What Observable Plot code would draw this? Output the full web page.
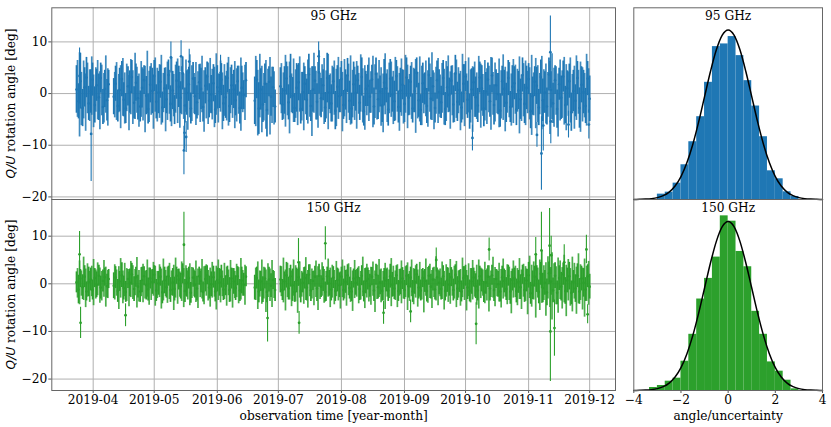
<!DOCTYPE html>
<html>
<head>
<meta charset="utf-8">
<script src="https://cdn.jsdelivr.net/npm/d3@7"></script>
<script src="https://cdn.jsdelivr.net/npm/@observablehq/plot@0.6"></script>
<style>
  body { margin: 0; background: white; }
  #fig { position: relative; width: 831px; height: 427px; overflow: hidden; }
  #fig svg { position: absolute; overflow: visible; max-width: none; }
</style>
</head>
<body>
<div id="fig"></div>
<script>
// days since 2019-04-01, both bands share the observing schedule
const obsDays = [
  -8.2,-7.2,-6.3,-5.2,-4.2,-3.3,-2.2,-1.2,-0.3,0.8,1.7,2.8,3.7,4.8,5.7,6.8,7.6,
  10.1,11,12.1,13,14.1,15,16,17.1,18,19,20.1,21,22,23.1,24,25,26.1,27,28,
  29.1,30,31,32.1,33,34,35.1,36,37,38,39.1,40,41,42.1,43,44,45.1,46,47,48,
  49.1,50,51,52.1,53,54,55.1,56,57,58,59.1,60,61,62.1,63,64,65.1,66,67,68,
  69.1,70,71,72.1,73,74,75.1,
  79.4,80.4,81.4,82.4,83.4,84.4,85.4,86.4,87.4,88.4,89.4,
  92,93,94,95,96,97,98,99,100,101,102,103,104,105,106,107,108,109,110,111,
  112,113,114,115,116,117,118,119,120,121,122,123,124,125,126,127,128,129,130,131,
  132,133,134,135,136,137,138,139,140,141,142,143,144,145,146,147,148,149,150,151,
  152,153,154,155,156,157,158,159,160,161,162,163,164,165,166,167,168,169,170,171,
  172,173,174,175,176,177,178,179,180,181,182,183,184,185,186,187,188,189,190,191,
  192,193,194,195,196,197,198,199,200,201,202,203,204,205,206,207,208,209,210,211,
  212,213,214,215,216,217,218,219,220,221,222,223,224,225,226,227,228,229,230,231,
  232,233,234,235,236,237,238,239,240,241,242,243,244
]

const angle95 = [
  0.8,-1.5,2.4,-2.8,1.2,3.1,-1.9,0.4,2.7,-2.2,1.6,-0.7,3.0,-2.6,0.9,-1.3,1.8,
  -0.6,1.9,-2.4,0.7,2.8,-1.2,-2.9,1.4,0.3,3.2,-1.8,2.1,-0.9,-2.5,1.1,2.6,-0.4,-3.0,1.7,0.5,
  3.4,-1.6,0.2,2.3,-2.7,1.0,-1.1,3.6,-2.0,0.6,-3.2,2.5,1.3,-0.8,3.9,-2.3,0.1,1.8,-2.9,2.9,
  -0.5,-1.7,2.2,0.9,-2.6,1.5,3.3,-1.4,-0.2,2.0,-3.1,1.2,0.4,2.7,-1.9,-0.7,3.0,-2.4,1.6,0.8,
  -1.3,2.4,-2.8,1.1,-0.3,2.6,
  -1.4,2.7,-2.9,0.8,-2.1,1.9,-3.2,2.3,-0.6,1.2,-2.5,
  1.4,-2.1,0.6,2.9,-1.7,3.3,-0.4,-2.8,1.1,2.2,-3.0,0.3,1.9,-1.2,3.7,-2.4,0.8,2.5,-1.6,4.1,
  -0.9,1.6,-2.7,3.0,0.2,-1.9,2.4,-3.3,1.3,-0.5,2.8,-2.2,0.7,3.5,-1.4,-2.9,1.8,0.1,2.6,-1.8,
  3.2,-3.4,0.9,1.5,-0.6,2.7,-2.5,3.8,-1.1,0.4,-2.3,2.1,1.0,-3.1,2.9,-0.2,-1.5,3.4,-2.6,0.6,
  1.7,-2.0,3.1,-0.8,2.3,-2.9,0.5,4.0,-1.3,-3.2,2.0,0.9,-2.4,3.6,-1.0,1.4,-2.8,2.6,0.3,-1.7,
  3.0,-3.0,1.2,-0.3,2.5,-2.1,3.9,-1.6,0.7,-2.7,1.9,3.3,-1.2,-3.5,0.8,2.2,-0.7,-2.3,3.1,1.0,
  -2.9,0.4,2.7,-1.5,3.5,-2.2,1.6,-0.1,-3.3,2.4,0.9,-1.8,3.0,-2.6,1.3,2.0,-3.1,0.6,-1.1,3.6,
  -2.0,1.1,2.8,-3.4,-0.5,2.3,1.5,-2.7,3.2,-1.3,0.2,-2.5,3.7,0.7,-1.9,2.6,-3.0,1.8,-0.8,3.3,
  -2.2,1.0,2.4,-3.6,0.5,-1.4,3.0,-2.8,1.7,0.3,-2.4,2.9,-1.0
]
const err95 = [
  4.6,3.4,5.4,3.6,3.8,3.9,3.3,4.2,3.2,3.5,3.1,4.5,2.9,3.4,3.6,4.0,2.7,
  3.5,3.4,3.1,4.2,3.4,3.3,2.9,3.8,4.1,3.2,3.1,3.6,4.2,3.0,3.9,2.8,3.7,2.9,3.5,4.4,
  3.0,3.3,4.1,3.2,3.0,3.9,2.8,2.9,3.5,3.7,2.8,3.6,4.0,3.1,3.2,3.4,4.3,3.3,3.0,3.1,
  3.6,3.2,3.4,4.0,2.9,3.5,2.8,3.3,3.7,3.6,2.7,4.2,3.3,3.1,3.5,4.1,2.9,3.2,3.9,3.7,
  3.0,2.9,3.1,4.2,2.8,3.4,
  4.6,3.7,5.0,4.0,3.5,3.8,5.2,2.9,3.8,3.9,3.2,
  3.6,3.1,4.6,3.2,3.4,4.3,3.5,2.8,4.7,3.6,2.9,3.8,3.3,4.0,3.9,3.0,4.4,2.7,3.5,4.2,
  3.8,3.0,2.9,4.8,3.3,3.6,2.6,3.7,4.1,3.2,3.4,2.8,3.9,3.3,3.8,3.0,4.3,3.5,2.7,3.4,
  3.7,2.9,3.4,4.0,3.2,2.8,3.6,3.1,3.9,3.0,3.3,4.5,2.8,3.2,3.7,3.4,3.9,3.0,3.1,4.3,
  2.9,3.6,3.8,3.5,3.0,2.8,4.2,2.9,3.3,3.0,3.9,3.1,3.4,3.3,4.1,3.0,2.9,3.7,4.3,3.1,
  3.4,3.2,4.0,3.3,2.8,3.6,3.5,3.8,3.1,3.0,3.7,2.9,3.6,3.4,4.0,2.8,3.9,3.3,3.0,4.4,
  3.5,3.7,3.2,3.1,3.4,3.9,3.0,4.0,3.2,2.9,3.6,3.8,3.4,3.0,4.1,3.2,3.1,3.7,3.9,3.3,
  3.8,4.2,3.0,3.4,3.7,2.9,3.6,3.5,3.3,4.1,4.0,3.6,3.2,3.5,3.9,2.8,3.7,3.1,4.2,3.0,
  3.6,3.4,3.3,3.7,4.0,3.1,3.2,3.9,3.5,4.2,3.4,3.3,4.4
]

const angle150 = [
  0.3,-1.2,1.1,-0.7,1.5,-1.6,0.4,0.9,-1.3,1.2,-0.2,1.7,-0.8,0.6,1.4,-0.5,1.0,
  -0.4,1.3,-1.5,0.5,1.8,-0.9,-1.7,1.0,0.2,2.0,-1.1,1.4,-0.6,-1.6,0.8,1.6,-0.3,-1.2,1.1,0.4,
  1.9,-1.4,0.1,1.5,-1.8,0.7,-0.7,1.6,-1.3,0.3,-1.1,1.7,0.9,-0.5,2.1,-1.5,0.2,1.2,-1.9,1.3,
  -0.2,-1.0,1.6,0.6,-1.7,1.0,1.8,-0.8,-0.1,1.4,-1.6,0.8,0.3,1.5,-1.2,-0.4,1.7,-1.3,1.1,0.5,
  -0.9,1.6,-1.4,0.7,-0.2,1.5,
  -0.8,1.2,-1.6,0.5,-1.2,1.1,-1.7,0.9,-0.4,0.8,-1.3,
  0.9,-1.3,0.5,1.8,-1.0,1.6,-0.3,-1.7,0.7,1.4,-1.5,0.2,1.2,-0.8,1.9,-1.4,0.6,1.5,-1.0,1.7,
  -0.6,1.0,-1.7,1.6,0.1,-1.2,1.3,-1.5,0.8,-0.3,1.5,-1.3,0.4,1.8,-0.9,-1.6,1.1,0.2,1.4,-1.1,
  1.7,-1.6,0.6,1.0,-0.4,1.5,-1.4,1.9,-0.7,0.3,-1.5,1.2,0.7,-1.4,1.6,-0.2,-1.0,1.8,-1.5,0.4,
  1.1,-1.3,1.7,-0.5,1.3,-1.6,0.4,2.0,-0.8,-1.4,1.2,0.6,-1.5,1.7,-0.6,0.9,-1.2,1.4,0.2,-1.1,
  1.6,-1.5,0.8,-0.2,1.4,-1.3,1.9,-1.0,0.5,-1.6,1.2,1.7,-0.8,-1.5,0.5,1.3,-0.5,-1.4,1.6,0.7,
  -1.7,0.3,1.5,-1.0,1.8,-1.3,1.0,-0.1,-1.6,1.4,0.6,-1.1,1.7,-1.6,0.8,1.2,-1.5,0.4,-0.7,1.9,
  -1.3,0.7,1.8,-2.0,-0.3,1.5,1.0,-1.7,2.1,-0.9,0.2,-1.8,2.2,0.5,-1.4,1.7,-1.9,1.2,-0.6,2.0,
  -1.5,0.7,1.6,-1.9,0.4,-1.0,1.7,-1.6,1.1,0.2,-1.2,1.6,-0.6
]
const err150 = [
  2.2,3.0,1.9,2.6,2.3,2.0,3.1,2.4,2.1,2.0,2.7,2.2,2.4,2.3,1.9,2.5,2.0,
  2.7,2.3,2.4,2.1,2.6,2.5,2.2,2.0,2.9,2.3,2.6,2.1,2.4,2.3,2.7,2.0,3.1,2.4,2.2,2.6,
  1.9,2.3,2.5,2.0,2.4,2.8,2.3,2.1,2.6,2.9,2.5,1.8,2.2,2.7,2.1,2.4,3.0,2.3,2.2,2.0,
  2.8,2.6,1.9,2.5,2.1,2.7,2.0,2.4,2.6,2.3,2.2,2.5,2.9,2.4,2.3,2.1,2.0,2.6,2.2,2.7,
  2.6,2.0,2.3,2.8,2.4,2.1,
  2.6,2.3,2.4,2.1,2.7,2.2,2.3,2.6,2.5,2.0,2.4,
  2.8,2.2,2.0,2.7,2.4,2.3,3.4,2.2,2.6,1.9,2.5,2.1,2.3,2.8,2.1,2.3,2.0,2.2,2.7,2.4,
  2.3,2.6,2.1,1.9,2.7,2.4,2.3,2.2,2.5,2.6,2.0,2.3,2.4,2.2,2.3,2.1,2.0,2.6,1.9,2.4,
  2.1,2.2,2.7,2.3,2.4,1.9,2.3,2.2,2.5,2.6,2.1,2.0,2.4,2.3,2.5,2.6,2.3,2.0,2.2,2.7,
  2.3,2.0,2.1,2.5,2.2,2.3,2.6,2.1,2.4,2.2,2.0,2.4,2.3,2.0,2.6,2.4,2.2,1.9,2.5,2.3,
  2.2,2.1,2.6,2.4,2.0,2.3,2.1,2.5,2.3,2.2,2.4,2.2,2.5,2.3,2.7,2.0,2.6,2.2,2.1,2.4,
  2.2,2.5,2.3,2.6,2.1,2.4,2.0,2.7,2.2,2.3,2.5,2.4,2.2,2.7,2.3,2.1,2.5,2.4,2.6,2.0,
  2.6,2.4,2.7,2.3,3.0,2.2,2.8,2.5,2.4,3.1,2.6,2.8,2.4,2.9,2.6,2.7,2.5,2.6,3.0,2.3,
  2.8,2.6,2.9,2.5,2.4,2.9,2.5,2.7,2.6,3.0,2.5,2.4,2.6
]

// further observations between the ones above: only the ends of their bars can be read
const midDays = [
  -7.7,-6.7,-5.8,-4.7,-3.7,-2.8,-1.7,-0.7,0.2,1.3,2.2,3.3,4.2,5.3,6.2,7.2,
  10.6,11.5,12.6,13.5,14.6,15.5,16.5,17.6,18.5,19.5,20.6,21.5,22.5,23.6,24.5,25.5,26.6,27.5,28.5,
  29.6,30.5,31.5,32.6,33.5,34.5,35.6,36.5,37.5,38.5,39.6,40.5,41.5,42.6,43.5,44.5,45.6,46.5,47.5,48.5,
  49.6,50.5,51.5,52.6,53.5,54.5,55.6,56.5,57.5,58.5,59.6,60.5,61.5,62.6,63.5,64.5,65.6,66.5,67.5,68.5,
  69.6,70.5,71.5,72.6,73.5,74.6,
  79.9,80.9,81.9,82.9,83.9,84.9,85.9,86.9,87.9,88.9,
  92.5,93.5,94.5,95.5,96.5,97.5,98.5,99.5,100.5,101.5,102.5,103.5,104.5,105.5,106.5,107.5,108.5,109.5,110.5,111.5,
  112.5,113.5,114.5,115.5,116.5,117.5,118.5,119.5,120.5,121.5,122.5,123.5,124.5,125.5,126.5,127.5,128.5,129.5,130.5,131.5,
  132.5,133.5,134.5,135.5,136.5,137.5,138.5,139.5,140.5,141.5,142.5,143.5,144.5,145.5,146.5,147.5,148.5,149.5,150.5,151.5,
  152.5,153.5,154.5,155.5,156.5,157.5,158.5,159.5,160.5,161.5,162.5,163.5,164.5,165.5,166.5,167.5,168.5,169.5,170.5,171.5,
  172.5,173.5,174.5,175.5,176.5,177.5,178.5,179.5,180.5,181.5,182.5,183.5,184.5,185.5,186.5,187.5,188.5,189.5,190.5,191.5,
  192.5,193.5,194.5,195.5,196.5,197.5,198.5,199.5,200.5,201.5,202.5,203.5,204.5,205.5,206.5,207.5,208.5,209.5,210.5,211.5,
  212.5,213.5,214.5,215.5,216.5,217.5,218.5,219.5,220.5,221.5,222.5,223.5,224.5,225.5,226.5,227.5,228.5,229.5,230.5,231.5,
  232.5,233.5,234.5,235.5,236.5,237.5,238.5,239.5,240.5,241.5,242.5,243.5
]
const midHi95 = [
  6.4,7.9,4.1,6.3,3.8,5.9,4.6,7.1,3.6,5.0,6.4,4.2,5.5,3.9,7.3,4.8,
  4.1,6.0,3.7,5.4,6.8,4.0,5.7,3.5,6.6,4.4,7.8,5.1,3.8,6.2,4.7,5.3,8.2,4.3,5.8,
  3.6,6.9,4.9,5.6,7.4,3.9,5.0,6.1,4.5,7.0,3.7,5.5,6.7,4.1,5.2,3.8,6.5,4.6,7.5,5.4,
  3.9,6.0,4.2,5.7,7.2,4.4,3.6,5.9,6.8,4.7,5.1,7.7,3.8,6.3,4.0,5.6,4.3,7.0,5.0,3.7,
  6.2,4.8,5.3,6.9,4.0,5.5,
  7.2,4.5,7.6,5.3,3.9,6.4,4.7,7.0,5.1,4.2,
  5.8,4.0,7.4,5.2,6.1,3.8,6.7,4.6,5.5,7.1,4.1,5.9,3.7,6.5,4.9,5.2,7.8,4.3,6.0,3.9,
  5.6,6.8,4.4,7.6,3.8,5.3,6.3,4.7,7.0,5.0,4.1,6.6,3.6,5.7,7.3,4.5,5.1,6.2,3.9,7.5,
  4.8,5.4,3.7,6.9,4.2,7.2,5.6,4.0,6.4,5.0,3.8,7.7,4.6,5.9,6.1,4.3,7.0,5.2,3.9,6.7,
  4.5,7.4,5.5,3.7,6.0,4.9,6.6,4.1,7.1,5.3,3.8,6.3,4.4,5.7,7.9,4.0,5.1,6.8,3.6,5.8,
  4.7,6.2,7.3,4.2,5.4,3.9,6.5,5.0,4.3,7.6,5.6,3.8,6.9,4.6,5.2,6.1,4.0,7.2,5.7,3.7,
  6.4,4.8,5.3,7.0,4.1,5.9,3.9,6.7,4.4,7.5,5.1,4.2,6.0,3.8,6.6,5.5,4.7,7.1,3.6,5.8,
  6.3,4.3,5.0,7.4,4.0,6.8,5.4,3.9,7.2,4.6,5.7,4.1,6.2,7.7,4.9,5.2,3.8,6.5,4.4,7.0,
  5.6,4.2,6.9,3.7,5.3,7.3,4.5,6.1,5.0,3.9,7.6,4.8
]
const midLo95 = [
  -4.6,-8.4,-6.2,-4.9,-7.3,-3.9,-5.4,-4.2,-6.6,-3.6,-5.1,-7.0,-4.3,-5.7,-3.8,-6.3,
  -4.7,-5.2,-3.7,-6.8,-4.4,-5.9,-3.5,-7.2,-4.1,-6.0,-5.0,-3.8,-6.5,-4.6,-5.3,-7.6,-3.9,-5.6,-4.2,
  -6.9,-3.6,-5.5,-4.8,-6.1,-3.7,-7.4,-5.2,-4.0,-6.4,-4.5,-3.8,-5.8,-6.7,-4.1,-5.0,-3.6,-7.1,-4.7,-5.4,
  -3.9,-6.2,-4.3,-5.6,-3.7,-7.5,-4.9,-6.0,-3.8,-5.1,-6.6,-4.2,-5.7,-3.6,-7.0,-4.4,-5.3,-6.3,-3.9,-4.8,
  -6.8,-5.5,-4.0,-7.3,-3.7,-5.2,
  -6.4,-8.2,-4.7,-7.6,-5.3,-6.9,-4.2,-8.0,-5.8,-6.1,
  -3.9,-5.0,-6.5,-4.3,-7.8,-3.7,-5.6,-4.8,-6.2,-3.6,-5.3,-7.2,-4.1,-5.9,-4.6,-8.3,-3.8,-5.1,-6.7,-4.4,
  -3.6,-6.0,-4.9,-7.0,-3.9,-5.5,-4.2,-6.4,-5.0,-3.7,-7.4,-4.5,-5.8,-3.8,-6.1,-4.7,-5.2,-6.9,-4.0,-3.6,
  -5.7,-7.1,-4.3,-5.4,-3.8,-6.6,-4.8,-5.1,-3.7,-6.3,-7.6,-4.1,-5.6,-3.9,-4.6,-6.0,-5.3,-3.6,-7.3,-4.4,
  -5.9,-3.8,-6.8,-4.2,-5.0,-3.7,-7.7,-4.9,-5.5,-6.2,-3.9,-4.5,-6.5,-3.6,-5.2,-7.0,-4.0,-5.8,-4.7,-3.8,
  -6.1,-5.4,-3.7,-6.9,-4.3,-5.6,-4.8,-3.9,-7.2,-5.1,-6.4,-4.1,-3.6,-5.7,-7.5,-4.6,-5.0,-3.8,-6.7,-4.4,
  -5.3,-6.0,-3.7,-7.1,-4.2,-5.5,-3.9,-6.6,-4.9,-5.2,-7.4,-3.8,-4.7,-6.3,-5.8,-4.0,-3.6,-7.8,-5.4,-4.5,
  -6.2,-3.9,-5.1,-8.1,-4.3,-6.8,-5.6,-4.1,-7.0,-3.8,-5.9,-4.6,-7.9,-5.0,-6.5,-4.2,-8.4,-5.3,-4.8,-6.1,
  -7.2,-4.4,-5.7,-3.9,-6.9,-5.2,-4.0,-7.5,-5.5,-4.7,-6.3,-3.8
]
const midHi150 = [
  3.2,4.8,2.7,5.6,3.1,4.2,2.6,3.7,5.1,2.9,4.4,3.3,2.6,4.9,3.5,2.8,
  4.0,2.9,3.6,5.3,2.7,4.3,3.2,2.5,4.7,3.8,3.0,5.5,2.8,3.4,4.1,2.6,5.0,3.3,2.9,
  4.5,3.7,2.6,4.0,3.1,5.2,2.8,3.5,4.3,2.7,3.9,5.4,3.0,2.5,4.6,3.2,3.8,2.7,4.2,3.4,
  2.9,4.8,3.1,2.6,5.1,3.6,4.0,2.8,3.3,4.5,2.5,3.7,5.0,3.0,2.7,4.3,3.5,2.9,4.9,3.2,
  2.6,4.1,3.4,5.3,2.8,3.9,
  3.3,4.6,2.7,5.0,3.5,2.9,4.2,3.1,4.9,2.6,
  3.6,5.4,2.9,4.3,3.2,2.7,5.0,3.8,3.0,4.6,2.6,3.4,5.5,2.8,4.0,3.1,2.7,4.8,3.6,2.9,
  4.4,3.0,2.6,5.2,3.3,3.9,2.8,4.7,3.1,2.5,5.0,3.7,2.9,4.2,3.4,2.7,4.9,3.0,3.6,2.6,
  5.6,3.2,4.1,2.8,3.5,4.6,2.7,3.9,5.1,3.1,2.6,4.3,3.3,2.9,5.3,3.7,2.7,4.0,3.0,4.8,
  2.8,3.6,4.4,2.6,5.0,3.2,3.8,2.9,4.5,3.0,2.7,5.2,3.4,4.1,2.8,3.5,5.7,2.9,3.1,4.6,
  2.6,4.0,3.3,5.1,2.9,3.7,4.7,2.7,3.0,5.4,3.6,2.8,4.2,3.2,4.9,2.6,3.9,5.0,3.3,2.9,
  4.5,3.1,3.8,2.7,5.6,3.4,2.9,4.3,3.0,5.2,2.8,4.0,3.5,2.6,4.8,3.7,3.2,5.3,2.9,4.1,
  3.6,3.0,5.8,3.9,4.6,6.2,3.3,5.0,7.0,3.8,4.4,5.7,3.1,6.5,4.2,3.6,5.4,4.8,3.4,6.0,
  3.9,5.1,3.2,5.6,4.3,3.5,6.3,4.0,3.3,5.2,3.7,4.7
]
const midLo150 = [
  -3.0,-4.4,-2.6,-3.5,-5.0,-2.8,-3.9,-2.7,-4.6,-3.2,-2.5,-4.1,-3.6,-2.8,-4.9,-3.1,
  -3.4,-2.6,-5.4,-3.0,-4.2,-2.7,-3.7,-4.8,-2.9,-3.3,-2.5,-5.1,-3.8,-2.7,-4.0,-3.2,-2.8,-4.5,-3.5,
  -2.6,-4.7,-3.1,-2.9,-5.3,-3.6,-2.7,-4.1,-3.3,-2.5,-5.6,-3.0,-4.3,-2.8,-3.7,-5.0,-2.6,-3.4,-4.6,-3.1,
  -2.7,-3.9,-5.2,-2.9,-3.2,-4.4,-2.6,-3.6,-4.9,-3.0,-2.8,-5.5,-3.5,-4.0,-2.7,-3.3,-4.7,-2.5,-3.8,-5.1,
  -3.1,-2.9,-4.2,-3.4,-2.6,-4.5,
  -3.5,-5.4,-2.8,-4.3,-3.2,-6.0,-2.9,-3.7,-5.0,-3.1,
  -2.7,-4.0,-5.7,-2.9,-3.4,-4.8,-2.6,-3.8,-6.2,-3.0,-2.8,-4.3,-3.5,-5.1,-2.7,-3.2,-4.6,-2.9,-5.6,-3.3,
  -2.6,-4.1,-3.7,-2.8,-5.0,-3.0,-4.4,-2.7,-3.6,-5.3,-2.9,-3.2,-4.7,-2.5,-3.9,-5.8,-3.1,-2.8,-4.2,-3.4,
  -2.7,-5.2,-3.0,-3.8,-4.5,-2.6,-6.0,-3.3,-2.9,-4.0,-3.6,-5.4,-2.8,-3.1,-4.8,-2.7,-3.5,-5.0,-2.6,-4.2,
  -3.2,-2.9,-5.6,-3.7,-2.7,-4.4,-3.0,-4.9,-2.8,-3.4,-6.1,-2.6,-4.1,-3.1,-5.2,-2.9,-3.6,-4.6,-2.7,-3.3,
  -5.5,-2.8,-3.9,-4.3,-2.6,-3.2,-5.0,-3.0,-4.7,-2.9,-3.5,-5.7,-2.7,-4.0,-3.4,-2.8,-4.5,-5.3,-3.1,-2.6,
  -4.2,-3.6,-5.9,-2.9,-3.0,-4.8,-2.7,-3.8,-5.1,-3.2,-2.8,-4.4,-3.5,-6.3,-3.0,-2.9,-4.6,-3.3,-5.4,-2.8,
  -3.7,-6.5,-3.1,-4.9,-3.4,-7.2,-3.0,-5.6,-4.1,-3.5,-6.8,-3.2,-5.0,-7.6,-3.8,-4.4,-6.2,-3.3,-5.3,-4.0,
  -6.9,-3.6,-4.7,-5.9,-3.2,-6.4,-4.2,-3.5,-5.5,-7.0,-3.7,-4.5
]

// the large excursions, read one by one
const spikeDay95 = [-6.7,-1.0,38.2,43.2,44.6,44.9,45.7,47.2,62.6,110.8,186.4,218.1,220.3,221.2,224.7,224.9,233.6,243.6]
const spikeAngle95 = [3.4,-7.8,7.0,7.2,-11.0,-7.6,-8.4,6.2,4.0,7.2,-8.6,-8.0,-11.6,-6.2,8.0,-5.4,-6.0,-6.0]
const spikeErr95 = [5.4,9.2,3.0,3.0,4.7,3.2,3.0,2.4,3.4,2.8,2.5,2.4,7.1,4.9,7.0,4.3,2.6,2.8]

const spikeDay150 = [-6.7,-6.2,15.9,44.6,85.7,100.9,101.2,114.1,142.7,156.0,168.6,188.2,194.6,217.5,220.3,224.3,224.7,225.1,226.7,231.5,242.4,243]
const spikeAngle150 = [6.2,-8.2,-6.6,8.2,-7.2,4.5,-8.2,8.5,-6.1,-5.8,5.0,-8.4,7.2,6.2,7.0,8.0,-10.0,6.0,-9.3,4.5,7.2,-6.4]
const spikeErr150 = [4.8,3.3,2.4,6.8,5.0,5.0,2.4,3.5,2.4,2.4,2.5,4.4,2.4,3.5,8.0,7.8,10.5,4.0,5.9,3.7,3.0,2.0]

// normalised angle histograms
const binLeft95 = [-3,-2.667,-2.333,-2,-1.667,-1.333,-1,-0.667,-0.333,0,0.333,0.667,1,1.333,1.667,2,2.333,2.667]
const density95 = [.0126,.0173,.0385,.0817,.1359,.1948,.2757,.3597,.366,.3833,.3385,.2796,.2199,.1477,.0675,.0487,.0181,.0071]
const binLeft150 = [-3.333,-3,-2.667,-2.333,-2,-1.667,-1.333,-1,-0.667,-0.333,0,0.333,0.667,1,1.333,1.667,2,2.333,2.667]
const density150 = [.0071,.0118,.022,.0291,.0691,.1327,.216,.2647,.315,.4124,.3998,.3283,.2922,.1869,.1327,.0675,.0456,.0243,.0039]

const curveX = [-4,-3.75,-3.5,-3.25,-3,-2.75,-2.5,-2.25,-2,-1.75,-1.5,-1.25,-1,-0.75,-0.5,-0.25,0,0.25,0.5,0.75,1,1.25,1.5,1.75,2,2.25,2.5,2.75,3,3.25,3.5,3.75,4]
const curveY = [.0001,.0004,.0009,.002,.0044,.0091,.0175,.0317,.054,.0863,.1295,.1826,.242,.3011,.3521,.3867,.3989,.3867,.3521,.3011,.242,.1826,.1295,.0863,.054,.0317,.0175,.0091,.0044,.002,.0009,.0004,.0001]

const monthTicks = ["2019-04-01","2019-05-01","2019-06-01","2019-07-01","2019-08-01","2019-09-01","2019-10-01","2019-11-01","2019-12-01"].map(d => new Date(d))
const angleTicks = [-20,-10,0,10]
const histTicks = [-4,-2,0,2,4]

const serif = "'DejaVu Serif', serif"
const fs = 12.2
const toDate = d => new Date(Date.UTC(2019,3,1) + d*864e5)
const rows = (days, a, e) => days.map((d,i) => ({date: toDate(d), angle: a[i], lo: a[i]-e[i], hi: a[i]+e[i]})).filter(r => r.angle !== undefined)

const fig = d3.select('#fig')

function place(svg, left, top) {
  svg.style.left = left + 'px'
  svg.style.top = top + 'px'
  fig.append(() => svg)
}

function timePanel(opt) {
  const body = rows(obsDays, opt.angle, opt.err)
  const spikes = rows(opt.spikeDay, opt.spikeAngle, opt.spikeErr)
  const mids = midDays.map((d,i) => ({date: toDate(d), lo: opt.midLo[i], hi: opt.midHi[i]}))
  const chart = Plot.plot({
    width: 625,
    height: opt.height,
    marginLeft: 51.3, marginRight: 10, marginTop: opt.marginTop, marginBottom: opt.marginBottom,
    style: {fontFamily: serif, fontSize: fs+'px', background: 'transparent', color: '#000'},
    x: {type: 'utc', domain: [toDate(-20.34), toDate(256.7)], axis: null},
    y: {domain: opt.domain, axis: null},
    marks: [
      Plot.gridX(monthTicks, {stroke: '#b0b0b0', strokeOpacity: 1, strokeWidth: 1}),
      Plot.gridY(angleTicks, {stroke: '#b0b0b0', strokeOpacity: 1, strokeWidth: 1}),
      Plot.ruleX(mids, {x: 'date', y1: 'lo', y2: 'hi', stroke: opt.color, strokeWidth: 1.7, strokeOpacity: .85}),
      Plot.ruleX(body, {x: 'date', y1: 'lo', y2: 'hi', stroke: opt.color, strokeWidth: 1.7}),
      Plot.ruleX(spikes, {x: 'date', y1: 'lo', y2: 'hi', stroke: opt.color, strokeWidth: 1.1}),
      Plot.dot(body, {x: 'date', y: 'angle', r: 1.3, fill: opt.color}),
      Plot.dot(spikes, {x: 'date', y: 'angle', r: 1.4, fill: opt.color}),
      Plot.axisY(angleTicks, {tickSize: 3, tickPadding: 1.5, tickFormat: d3.format('d'), label: null, stroke: '#555'}),
      opt.showX ? Plot.axisX(monthTicks, {tickSize: 3, tickPadding: 1.5, tickFormat: d3.utcFormat('%Y-%m'), label: null, stroke: '#555'}) : null,
      opt.showX ? Plot.text(['observation time [year-month]'], {frameAnchor: 'bottom', dy: 29, fontSize: fs}) : null,
      Plot.text([opt.title], {frameAnchor: 'top', dy: opt.titleDy, fontSize: fs}),
      Plot.frame({stroke: '#666', strokeWidth: 1})
    ]
  })
  const label = d3.select(chart).append('text')
    .attr('transform', `translate(15,${opt.labelY}) rotate(-90)`)
    .attr('text-anchor', 'middle')
    .attr('font-size', fs)
    .attr('fill', '#000')
  label.append('tspan').attr('font-family', "'DejaVu Sans', sans-serif").attr('font-style', 'italic').text('Q/U')
  label.append('tspan').attr('font-family', serif).text(' rotation angle [deg]')
  place(chart, 0, opt.top)
}

function histPanel(opt) {
  const bars = opt.left.map((l,i) => ({x1: l, x2: l + 0.3333, y: opt.density[i]}))
  const curve = curveX.map((x,i) => ({x, y: curveY[i]}))
  const chart = Plot.plot({
    width: 211,
    height: opt.height,
    marginLeft: 13.3, marginRight: 9, marginTop: opt.marginTop, marginBottom: opt.marginBottom,
    style: {fontFamily: serif, fontSize: fs+'px', background: 'transparent', color: '#000'},
    x: {domain: [-4,4], axis: null},
    y: {domain: [0,.451], axis: null},
    marks: [
      Plot.rectY(bars, {x1: 'x1', x2: 'x2', y: 'y', fill: opt.color, inset: 0}),
      Plot.lineY(curve, {x: 'x', y: 'y', stroke: 'black', strokeWidth: 1.5, curve: 'monotone-x'}),
      opt.showX ? Plot.axisX(histTicks, {tickSize: 3, tickPadding: 1.5, tickFormat: d3.format('d'), label: null, stroke: '#555'}) : null,
      opt.showX ? Plot.text(['angle/uncertainty'], {frameAnchor: 'bottom', dy: 29, fontSize: fs}) : null,
      Plot.text([opt.title], {frameAnchor: 'top', dy: opt.titleDy, fontSize: fs}),
      Plot.frame({stroke: '#666', strokeWidth: 1})
    ]
  })
  place(chart, 620, opt.top)
}

timePanel({top: 0, height: 215, marginTop: 7.3, marginBottom: 16, domain: [-20.5,16.6], color: '#1f77b4',
  angle: angle95, err: err95, midLo: midLo95, midHi: midHi95, spikeDay: spikeDay95, spikeAngle: spikeAngle95, spikeErr: spikeErr95,
  title: '95 GHz', titleDy: 3.5, labelY: 103.5, showX: false})
timePanel({top: 195, height: 232, marginTop: 4, marginBottom: 37, domain: [-22.4,17.7], color: '#2ca02c',
  angle: angle150, err: err150, midLo: midLo150, midHi: midHi150, spikeDay: spikeDay150, spikeAngle: spikeAngle150, spikeErr: spikeErr150,
  title: '150 GHz', titleDy: 3.5, labelY: 99.5, showX: true})
histPanel({top: 0, height: 215, marginTop: 7.3, marginBottom: 16, color: '#1f77b4',
  left: binLeft95, density: density95, title: '95 GHz', titleDy: 3.5, showX: false})
histPanel({top: 195, height: 232, marginTop: 4, marginBottom: 37, color: '#2ca02c',
  left: binLeft150, density: density150, title: '150 GHz', titleDy: 3.5, showX: true})
</script>
</body>
</html>
